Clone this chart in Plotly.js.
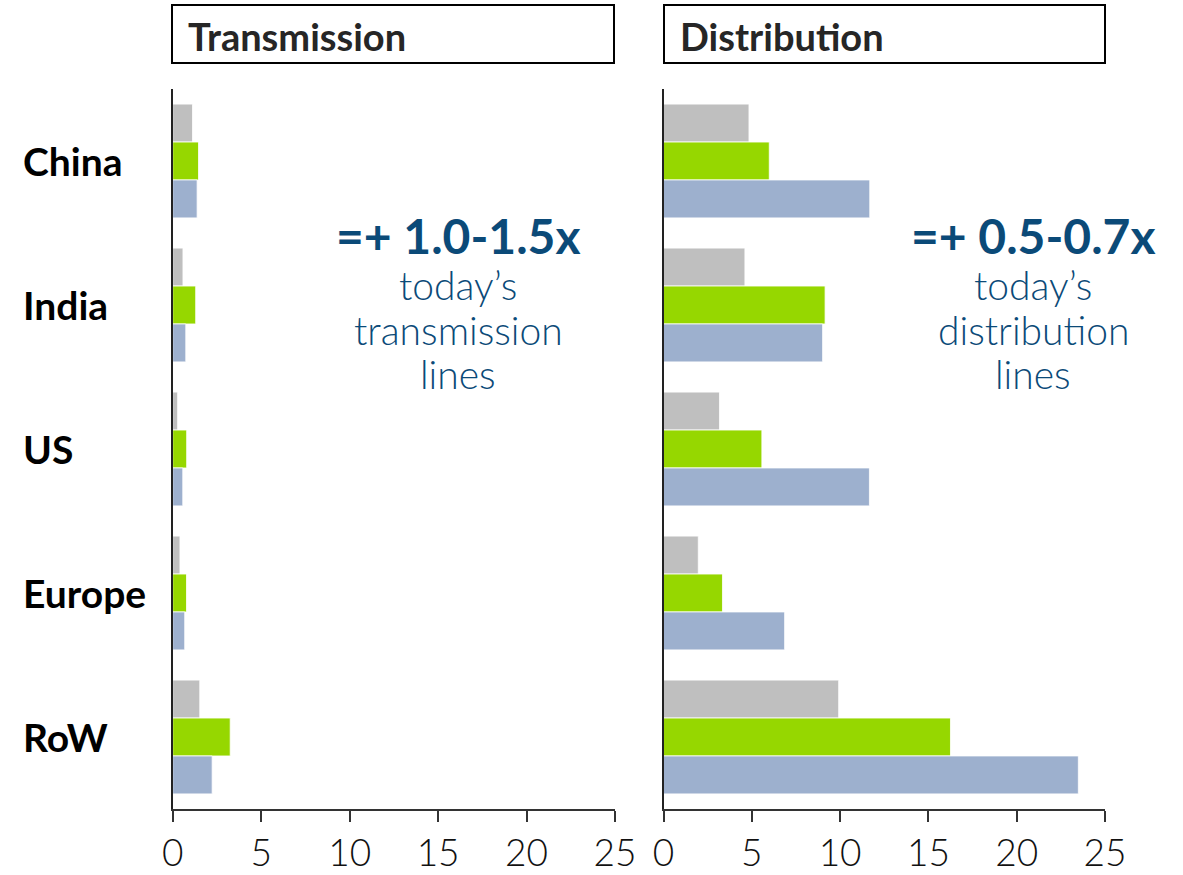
<!DOCTYPE html>
<html>
<head>
<meta charset="utf-8">
<script src="https://cdn.plot.ly/plotly-3.0.1.min.js"></script>
<style>html,body{margin:0;padding:0;background:#fff;}#chart{width:1183px;height:875px;}</style>
</head>
<body>
<div id="chart"></div>
<script>
// Data
const regions = ["China", "India", "US", "Europe", "RoW"];
const transmissionGray  = [1.12, 0.58, 0.28, 0.41, 1.53];
const transmissionGreen = [1.46, 1.30, 0.79, 0.78, 3.25];
const transmissionBlue  = [1.38, 0.74, 0.57, 0.68, 2.23];
const distributionGray  = [4.84, 4.61, 3.17, 1.97, 9.92];
const distributionGreen = [5.99, 9.15, 5.57, 3.34, 16.25];
const distributionBlue  = [11.68, 9.01, 11.66, 6.86, 23.49];
const panelTitles = ["Transmission", "Distribution"];
const xTicks = [0, 5, 10, 15, 20, 25];
const noteHeadlines = ["=+ 1.0-1.5x", "=+ 0.5-0.7x"];
const noteLines = [["today\u2019s", "transmission", "lines"], ["today\u2019s", "distribution", "lines"]];

const colors = {gray: "#BFBFBF", green: "#96D700", blue: "#9DB0CE"};
const W = 1183, H = 875;
const FONT = "Lato, 'Open Sans', sans-serif";
const NOTE_COLOR = "#0B4A78";

function bar(x, color, xa, ya) {
  return {type: "bar", orientation: "h", y: regions, x: x, xaxis: xa, yaxis: ya,
    marker: {color: color, line: {color: "rgba(255,255,255,0.8)", width: 1}},
    hoverinfo: "x", showlegend: false};
}

const data = [
  bar(transmissionGray, colors.gray, "x", "y"),
  bar(transmissionGreen, colors.green, "x", "y"),
  bar(transmissionBlue, colors.blue, "x", "y"),
  bar(distributionGray, colors.gray, "x2", "y2"),
  bar(distributionGreen, colors.green, "x2", "y2"),
  bar(distributionBlue, colors.blue, "x2", "y2")
];

const x1d = [172.7 / W, 615 / W];
const x2d = [663.5 / W, 1105 / W];
const yd = [(H - 809) / H, (H - 89) / H];

const xaxisBase = {
  range: [0, 25], tickvals: xTicks, ticktext: xTicks.map(String),
  showgrid: false, zeroline: false, showline: true, linecolor: "#333", linewidth: 2,
  ticks: "outside", ticklen: 11, tickwidth: 2, tickcolor: "#333",
  tickfont: {family: FONT, size: 37, color: "#111", weight: 300},
  fixedrange: true
};
const yaxisBase = {
  autorange: "reversed", showticklabels: false, showgrid: false, zeroline: false,
  showline: true, linecolor: "#222", linewidth: 2, ticks: "", fixedrange: true
};

const annotations = [];
regions.forEach(r => {
  annotations.push({xref: "paper", yref: "y", x: 21 / W, y: r, xanchor: "left", yanchor: "middle",
    text: "<b>" + r + "</b>", showarrow: false,
    font: {family: FONT, size: 39, color: "#000"}});
});
const boxes = [[172, 614], [664, 1105]];
const shapes = [];
panelTitles.forEach((t, i) => {
  shapes.push({type: "rect", xref: "paper", yref: "paper",
    x0: boxes[i][0] / W, x1: boxes[i][1] / W, y0: (H - 63) / H, y1: (H - 5) / H,
    line: {color: "#000", width: 2}, fillcolor: "rgba(0,0,0,0)"});
  annotations.push({xref: "paper", yref: "paper", x: (boxes[i][0] + 14) / W, y: (H - 36) / H,
    xanchor: "left", yanchor: "middle", text: "<b>" + t + "</b>", showarrow: false,
    font: {family: FONT, size: 38, color: "#262626"}});
});
const noteX = [458, 1033];
const lineY = [285, 330, 374];
noteHeadlines.forEach((h, i) => {
  annotations.push({xref: "paper", yref: "paper", x: noteX[i] / W, y: (H - 236) / H,
    xanchor: "center", yanchor: "middle", text: "<b>" + h + "</b>", showarrow: false,
    font: {family: FONT, size: 48, color: NOTE_COLOR}});
  noteLines[i].forEach((ln, j) => {
    annotations.push({xref: "paper", yref: "paper", x: noteX[i] / W, y: (H - lineY[j]) / H,
      xanchor: "center", yanchor: "middle", text: ln, showarrow: false,
      font: {family: FONT, size: 39, color: NOTE_COLOR, weight: 300}});
  });
});

const layout = {
  width: W, height: H, margin: {l: 0, r: 0, t: 0, b: 0},
  paper_bgcolor: "#fff", plot_bgcolor: "#fff",
  barmode: "group", bargap: 0.21, bargroupgap: 0,
  xaxis: Object.assign({}, xaxisBase, {domain: x1d, anchor: "y"}),
  yaxis: Object.assign({}, yaxisBase, {domain: yd, anchor: "x"}),
  xaxis2: Object.assign({}, xaxisBase, {domain: x2d, anchor: "y2"}),
  yaxis2: Object.assign({}, yaxisBase, {domain: yd, anchor: "x2"}),
  annotations: annotations, shapes: shapes
};

Plotly.newPlot("chart", data, layout, {displayModeBar: false, staticPlot: true});
</script>
</body>
</html>
